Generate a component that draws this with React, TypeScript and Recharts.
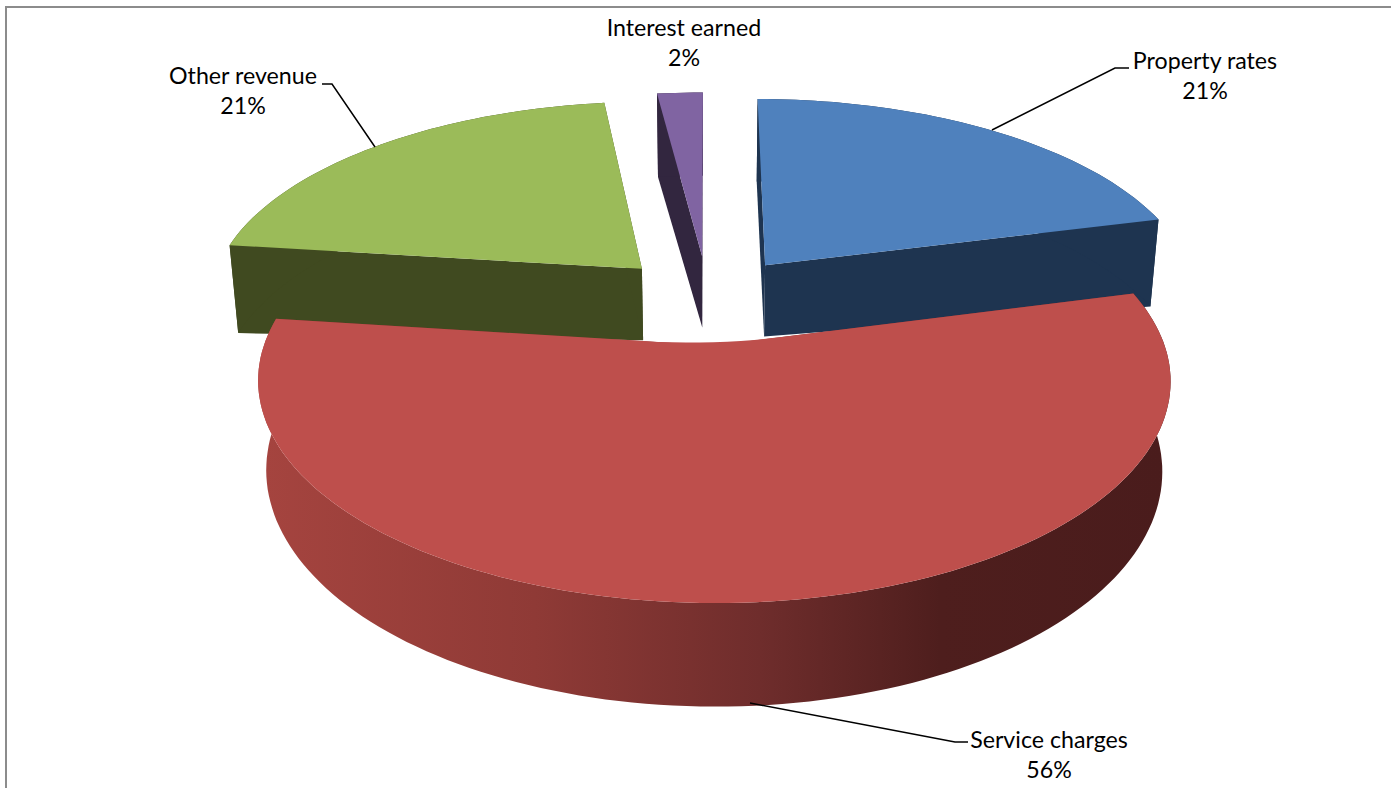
import React from 'react';
import { PieChart, Pie } from 'recharts';

// Slices are listed from the 277.2 degree mark round, so Service charges paints last and sits on top
const categories = ['Other revenue', 'Interest earned', 'Property rates', 'Service charges'];
const shares = [21, 2, 21, 56];
const topColors = ['#9BBB59', '#8064A2', '#4F81BD', '#BE4F4C'];
const wallColors = ['#404A20', '#32263F', '#1E3450', 'url(#serviceWall)'];

const chartData = categories.map((name, i) => ({
  name,
  value: shares[i],
  fill: topColors[i],
  wall: wallColors[i],
}));

// label anchors and elbow leader lines, keyed by category
const labelSpots: Record<string, { x: number; y: number; line: string }> = {
  'Other revenue': { x: 243, y: 84, line: '375,147 332,84 322,84' },
  'Interest earned': { x: 684, y: 36, line: '' },
  'Property rates': { x: 1205, y: 69, line: '992,130 1115,68 1129,68' },
  'Service charges': { x: 1049, y: 748, line: '750,703 955,742 968,742' },
};

const TILT = 0.464;
const DEPTH = 0.155;
const EXPLODE = 0.22;
const WALL_SHRINK = 0.982;
const RAD = Math.PI / 180;

// perspective projection of a point on the pie's top plane (unit radius, y pointing away)
function project(cx: number, cy: number, r: number, x: number, y: number) {
  const s = 1 / (1 + DEPTH * y);
  return [cx + r * x * s, cy - r * TILT * y * s];
}

// the lower edge of a wall, pulled in a little and dropped by the slab thickness
function projectLow(cx: number, cy: number, r: number, x: number, y: number) {
  const [px, py] = project(cx, cy, r, x, y);
  const drop = 72 + 13 * x * x - 8.3 * y + 14.4 * y * y;
  return [cx + (px - cx) * WALL_SHRINK, py + drop];
}

const toPath = (pts: number[][]) =>
  'M' + pts.map((p) => `${p[0].toFixed(1)},${p[1].toFixed(1)}`).join('L') + 'Z';

// a wide slice gets a soft valley at its centre instead of a sharp notch
function softApex(apex: number[], from: number[], to: number[]) {
  const t = 0.16;
  const a = [apex[0] + (from[0] - apex[0]) * t, apex[1] + (from[1] - apex[1]) * t];
  const b = [apex[0] + (to[0] - apex[0]) * t, apex[1] + (to[1] - apex[1]) * t];
  const pts: number[][] = [];
  for (let i = 0; i <= 10; i++) {
    const u = i / 10;
    pts.push([
      (1 - u) * (1 - u) * a[0] + 2 * u * (1 - u) * apex[0] + u * u * b[0],
      (1 - u) * (1 - u) * a[1] + 2 * u * (1 - u) * apex[1] + u * u * b[1],
    ]);
  }
  return pts;
}

function SliceShape(props: any) {
  const { cx, cy, outerRadius: r, startAngle, endAngle, fill, wall } = props;
  const mid = ((startAngle + endAngle) / 2) * RAD;
  const ox = EXPLODE * Math.cos(mid);
  const oy = EXPLODE * Math.sin(mid);

  const rim: number[][] = [];
  const sweep = Math.abs(endAngle - startAngle);
  const steps = Math.max(2, Math.ceil(sweep / 1.5));
  for (let i = 0; i <= steps; i++) {
    const a = (startAngle + ((endAngle - startAngle) * i) / steps) * RAD;
    rim.push([ox + Math.cos(a), oy + Math.sin(a)]);
  }
  const topRim = rim.map((p) => project(cx, cy, r, p[0], p[1]));
  const lowRim = rim.map((p) => projectLow(cx, cy, r, p[0], p[1]));
  const apexTop = project(cx, cy, r, ox, oy);
  const apexLow = projectLow(cx, cy, r, ox, oy);
  const last = rim.length - 1;
  const flatWall = wall.startsWith('url') ? '#7A302E' : wall;
  const centre = sweep > 180 ? softApex(apexTop, topRim[last], topRim[0]) : [apexTop];

  return (
    <g>
      <path d={toPath([apexTop, apexLow, lowRim[0], topRim[0]])} fill={flatWall} />
      <path d={toPath([apexTop, apexLow, lowRim[last], topRim[last]])} fill={flatWall} />
      <path d={toPath([...topRim, ...[...lowRim].reverse()])} fill={wall} />
      <path d={toPath([...centre, ...topRim])} fill={fill} />
    </g>
  );
}

function SliceLabel(props: any) {
  const spot = labelSpots[props.name];
  if (!spot) return null;
  return (
    <g>
      {spot.line && <polyline points={spot.line} fill="none" stroke="#000" strokeWidth={1.5} />}
      <text
        x={spot.x}
        y={spot.y}
        textAnchor="middle"
        fontFamily="Lato, 'Open Sans', sans-serif"
        fontSize={23.2}
        fill="#000"
      >
        <tspan x={spot.x} dy={0}>{props.name}</tspan>
        <tspan x={spot.x} dy={30}>{`${props.value}%`}</tspan>
      </text>
    </g>
  );
}

export default function App() {
  return (
    <div
      style={{
        position: 'absolute',
        left: 0,
        top: 0,
        width: 1391,
        height: 788,
        overflow: 'hidden',
        background: '#fff',
      }}
    >
      <div
        style={{
          position: 'absolute',
          left: 5,
          top: 6,
          width: 1500,
          height: 900,
          border: '2px solid #8C8C8C',
        }}
      />
      <div style={{ position: 'absolute', left: 0, top: 0 }}>
        <PieChart width={1391} height={788} margin={{ top: 0, right: 0, bottom: 0, left: 0 }}>
          <defs>
            <linearGradient id="serviceWall" gradientUnits="userSpaceOnUse" x1="265" y1="0" x2="1165" y2="0">
              <stop offset="0" stopColor="#A5443F" />
              <stop offset="0.3" stopColor="#8F3A36" />
              <stop offset="0.55" stopColor="#6F2D2C" />
              <stop offset="0.75" stopColor="#4E1E1D" />
              <stop offset="1" stopColor="#4A1C1C" />
            </linearGradient>
          </defs>
          <Pie
            data={chartData}
            dataKey="value"
            nameKey="name"
            cx={708}
            cy={299.5}
            outerRadius={435}
            startAngle={172.8}
            endAngle={-187.2}
            stroke="none"
            shape={SliceShape}
            label={SliceLabel}
            labelLine={false}
            isAnimationActive={false}
          />
        </PieChart>
      </div>
    </div>
  );
}
